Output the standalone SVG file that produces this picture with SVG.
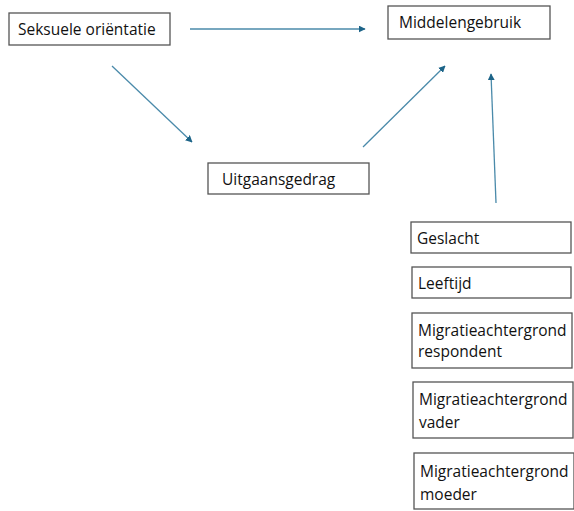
<svg xmlns="http://www.w3.org/2000/svg" width="574" height="511" viewBox="0 0 574 511">
<style>
.box{fill:#fff;stroke:#555;stroke-width:1.3}
.t{font-family:"Open Sans","Liberation Sans",sans-serif;font-size:15.5px;fill:#111}
.c{stroke:#4a8aaa;stroke-width:1.3;fill:none;marker-end:url(#ah)}
</style>
<defs>
<marker id="ah" viewBox="0 0 10 10" refX="9" refY="5" markerWidth="7" markerHeight="7" markerUnits="userSpaceOnUse" orient="auto">
<path d="M0,0 L10,5 L0,10 Z" fill="#1d6488"/>
</marker>
</defs>
<rect width="574" height="511" fill="#fff"/>
<g id="connectors">
<line class="c" x1="190" y1="29" x2="365" y2="29"/>
<line class="c" x1="112" y1="66" x2="192" y2="142"/>
<line class="c" x1="363" y1="147" x2="445" y2="66"/>
<line class="c" x1="496" y1="203" x2="491" y2="74"/>
</g>
<g id="seksuele">
<rect class="box" x="9" y="13" width="161" height="32"/>
<text class="t" x="18" y="35">Seksuele oriëntatie</text>
</g>
<g id="middelengebruik">
<rect class="box" x="388" y="6" width="162" height="33"/>
<text class="t" x="399" y="28">Middelengebruik</text>
</g>
<g id="uitgaansgedrag">
<rect class="box" x="208" y="163" width="161" height="31"/>
<text class="t" x="222" y="185">Uitgaansgedrag</text>
</g>
<g id="geslacht">
<rect class="box" x="411" y="222" width="160" height="31"/>
<text class="t" x="417" y="244">Geslacht</text>
</g>
<g id="leeftijd">
<rect class="box" x="412" y="267" width="159" height="31"/>
<text class="t" x="418" y="289">Leeftijd</text>
</g>
<g id="migratie-respondent">
<rect class="box" x="412" y="313" width="160" height="55"/>
<text class="t" x="418" y="336">Migratieachtergrond</text>
<text class="t" x="418" y="357">respondent</text>
</g>
<g id="migratie-vader">
<rect class="box" x="413" y="382" width="160" height="56"/>
<text class="t" x="419" y="405">Migratieachtergrond</text>
<text class="t" x="419" y="428">vader</text>
</g>
<g id="migratie-moeder">
<rect class="box" x="414" y="453" width="160" height="56"/>
<text class="t" x="420" y="477">Migratieachtergrond</text>
<text class="t" x="420" y="500">moeder</text>
</g>
</svg>
